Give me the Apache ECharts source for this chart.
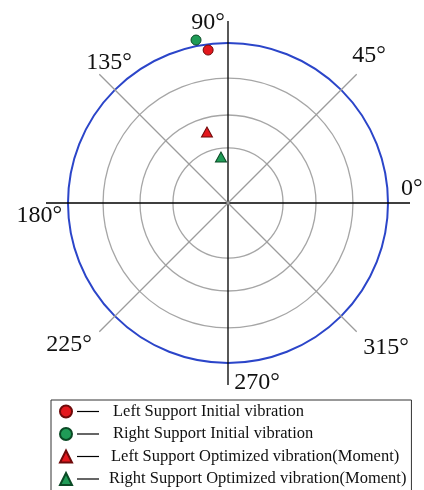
<!DOCTYPE html>
<html><head><meta charset="utf-8">
<script src="https://cdn.jsdelivr.net/npm/echarts@6/dist/echarts.min.js"></script>
<style>html,body{margin:0;padding:0;background:#fff}#c{width:424px;height:490px}</style>
</head><body><div id="c"></div>
<script>
// ---- data ----
const angleTicks = [0, 45, 90, 135, 180, 225, 270, 315];
const tickLabels = ['0°', '45°', '90°', '135°', '180°', '225°', '270°', '315°'];
const ringValues = [34.4, 55, 78.1];          // grey reference rings (outer blue circle = 100)
const seriesNames = [
  'Left Support Initial vibration',
  'Right Support Initial vibration',
  'Left Support Optimized vibration(Moment)',
  'Right Support Optimized vibration(Moment)'
];
// [radius, angle(deg)]
const leftInitial = [[96.4, 97.4]];
const rightInitial = [[103.8, 101.1]];
const leftOptimized = [[46.3, 106.5]];
const rightOptimized = [[29.1, 98.7]];

// ---- layout / style ----
const CENTER = [228, 203];
const R_MAIN = 160, R_LINES = 182, RMAX = 100;
const FONT = 'Liberation Serif, Times New Roman, serif';
const labelPad = {
  a0: [0, 0, 28, 37], a45: [0, 0, 39, 28], a90: [0, 40, 32, 0], a135: [0, 0, 32, 0],
  a180: [26, 30, 0, 0], a225: [34, 40, 0, 0], a270: [32, 0, 0, 58], a315: [37, 0, 0, 39]
};
const rich = {};
Object.keys(labelPad).forEach(k => {
  rich[k] = { fontFamily: FONT, fontSize: 24, color: '#111', padding: labelPad[k] };
});

const RED = '#e3171d', RED_B = '#6e0a0a', GREEN = '#1f9c57', GREEN_B = '#0a4a25';

const polar = [
  { center: CENTER, radius: R_MAIN },
  { center: CENTER, radius: R_LINES }
];
const angleAxis = [
  {
    polarIndex: 0, type: 'value', min: 0, max: 360, interval: 45, startAngle: 0, clockwise: false, z: 4,
    axisLine: { show: true, lineStyle: { color: '#2b45c9', width: 2 } },
    axisTick: { show: false }, splitLine: { show: false },
    axisLabel: {
      show: true, margin: -24,
      formatter: v => '{a' + v + '|' + tickLabels[angleTicks.indexOf(v)] + '}',
      rich: rich
    }
  },
  {
    polarIndex: 1, type: 'value', min: 0, max: 360, interval: 45, startAngle: 0, clockwise: false, z: 5,
    axisLine: { show: false }, axisTick: { show: false }, axisLabel: { show: false },
    splitLine: { show: true, lineStyle: { color: ['#000', '#9c9c9c'], width: 1.3 } }
  }
];
const radiusAxis = [
  { polarIndex: 0, type: 'value', min: 0, max: RMAX, show: false },
  { polarIndex: 1, type: 'value', min: 0, max: RMAX, show: false }
];
ringValues.forEach((v, i) => {
  polar.push({ center: CENTER, radius: v / RMAX * R_MAIN });
  angleAxis.push({
    polarIndex: i + 2, type: 'value', min: 0, max: 360, startAngle: 0, clockwise: false, z: 2,
    axisLine: { show: true, lineStyle: { color: '#a6a6a6', width: 1.3 } },
    axisTick: { show: false }, axisLabel: { show: false }, splitLine: { show: false }
  });
  radiusAxis.push({ polarIndex: i + 2, type: 'value', min: 0, max: RMAX, show: false });
});

function sc(name, data, symbol, size, fill, border) {
  return {
    name, type: 'scatter', coordinateSystem: 'polar', polarIndex: 0, clip: false, z: 10,
    symbol, symbolSize: size, data,
    itemStyle: { color: fill, borderColor: border, borderWidth: 1, opacity: 1 }
  };
}
const spacer = [14, 14, 12, 10];
const legendRich = {
  d: { width: 22, height: 1.2, backgroundColor: '#000' },
  t: { fontFamily: FONT, fontSize: 16.5, lineHeight: 18, color: '#111' }
};
spacer.forEach((w, i) => { legendRich['s' + i] = { width: w, height: 1 }; });

const chart = echarts.init(document.getElementById('c'), null, { renderer: 'canvas' });
chart.setOption({
  backgroundColor: '#fff',
  animation: false,
  polar, angleAxis, radiusAxis,
  legend: {
    orient: 'vertical', left: 51, top: 400, height: 110, padding: [3, 5, 6, 8], itemGap: 5.5,
    itemWidth: 12, itemHeight: 12, borderColor: '#333', borderWidth: 1, borderRadius: 0,
    selectedMode: false, data: seriesNames,
    formatter: name => '{d|}{s' + seriesNames.indexOf(name) + '|}{t|' + name + '}',
    textStyle: { rich: legendRich }
  },
  series: [
    sc(seriesNames[0], leftInitial, 'circle', 10, RED, RED_B),
    sc(seriesNames[1], rightInitial, 'circle', 10, GREEN, GREEN_B),
    sc(seriesNames[2], leftOptimized, 'triangle', [11, 10], RED, RED_B),
    sc(seriesNames[3], rightOptimized, 'triangle', [11, 10], GREEN, GREEN_B)
  ]
});
</script></body></html>
